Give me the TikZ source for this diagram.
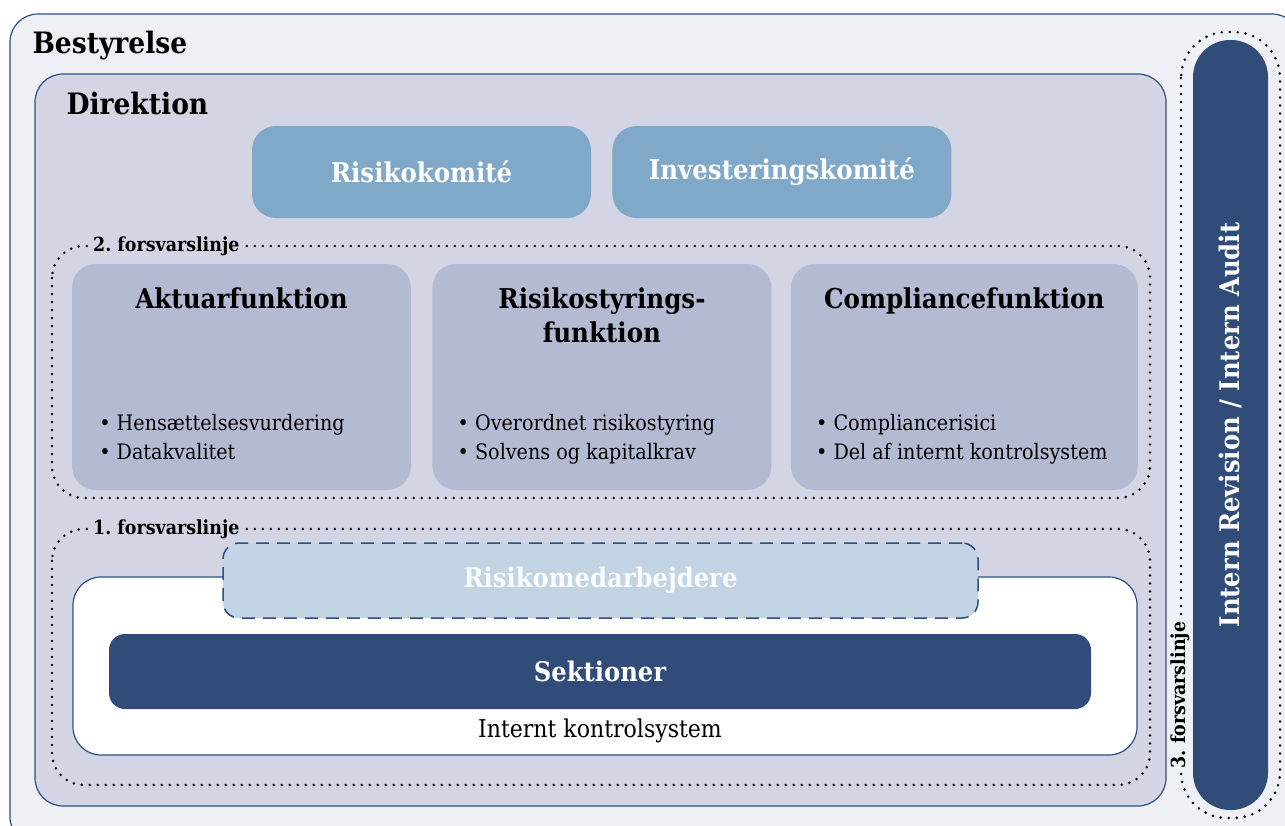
\documentclass[tikz,border=0pt]{standalone}
\usepackage{fontspec}
\setmainfont{DejaVu Serif Condensed}
\usepackage{xcolor}
\usepackage{tikz}
\usetikzlibrary{positioning}

\definecolor{edgeblue}{HTML}{2B5080}
\definecolor{boardbg}{HTML}{EFF0F6}
\definecolor{mgmtbg}{HTML}{D3D5E5}
\definecolor{kombg}{HTML}{7FA8C9}
\definecolor{funcbg}{HTML}{B5BAD3}
\definecolor{medbg}{HTML}{C2D3E4}
\definecolor{darkbg}{HTML}{314C79}

\begin{document}
\frenchspacing
\begin{tikzpicture}[x=1pt,y=-1pt,node distance=21pt,
                     frame/.style={draw=edgeblue,
                         line width=1.2pt,
                         rounded corners=28pt},
                     line/.style={line width=2.8pt,
                         dash pattern=on 0pt off 8pt,
                         line cap=round,
                         rounded corners=32pt},
                     title/.style={anchor=west,
                         font=\bfseries\fontsize{29.5}{33}\selectfont},
                     linelabel/.style={inner sep=3pt,
                         font=\bfseries\fontsize{19.4}{22}\selectfont},
                     komite/.style={rounded corners=24pt,
                         fill=kombg,
                         text=white,
                         minimum width=339pt,
                         minimum height=92pt,
                         font=\bfseries\fontsize{27.2}{31}\selectfont},
                     fn/.style={rounded corners=24pt,
                         fill=funcbg,
                         minimum width=339pt,
                         minimum height=226pt},
                     head/.style={anchor=north,
                         align=center,
                         font=\bfseries\fontsize{27.3}{34}\selectfont},
                     items/.style={anchor=south west,
                         align=left,
                         font=\fontsize{21.3}{29}\selectfont},
                     bar/.style={rounded corners=16pt,
                         minimum height=75pt,
                         font=\bfseries\fontsize{27}{31}\selectfont}]
    \useasboundingbox (0,0) rectangle (1285,825);
    % outer frames
    \draw[frame, fill=boardbg] (10,14) rectangle (1300,845);
    \node[title] (best) at (29,46) {Bestyrelse};
    \draw[frame, fill=mgmtbg] (35,74) rectangle (1166,806);
    \node[title] (dir) at (63,103) {Direktion};

    % committees
    \node[komite] (rk) at (421.5,172) {Risikokomité};
    \node[komite, right=of rk] (ik) {Investeringskomité};

    % 2nd line of defence
    \draw[line] (52,246) rectangle (1150,498);
    \node[linelabel, fill=mgmtbg, anchor=west] (l2) at (90,246) {2. forsvarslinje};
    \node[fn] (akt) at (241.5,377) {};
    \node[fn, right=of akt] (rsf) {};
    \node[fn, right=19pt of rsf, minimum width=347pt] (cf) {};
    \node[head, below=20pt of akt.north] (akth) {Aktuarfunktion};
    \node[head, below=20pt of rsf.north] (rsfh) {Risikostyrings-\\funktion};
    \node[head, below=20pt of cf.north] (cfh) {Compliancefunktion};
    \node[items, above right=18pt and 24pt of akt.south west] (akti)
        {• Hensættelsesvurdering\strut\\• Datakvalitet\strut};
    \node[items, above right=18pt and 22pt of rsf.south west] (rsfi)
        {• Overordnet risikostyring\strut\\• Solvens og kapitalkrav\strut};
    \node[items, above right=18pt and 22pt of cf.south west] (cfi)
        {• Compliancerisici\strut\\• Del af internt kontrolsystem\strut};

    % 1st line of defence
    \draw[line] (52,529) rectangle (1150,785);
    \node[linelabel, fill=mgmtbg, anchor=west] (l1) at (90,529) {1. forsvarslinje};
    \node[frame, fill=white, minimum width=1064pt, minimum height=178pt] (iks) at (605,666) {};
    \node[bar, fill=medbg, text=white!92!medbg, draw=edgeblue, line width=1.5pt,
          dash pattern=on 13pt off 8pt, minimum width=755pt] (med) at (600.5,580.5) {Risikomedarbejdere};
    \node[bar, fill=darkbg, text=white, minimum width=982pt] (sek) at (600,671.5) {Sektioner};
    \node[font=\fontsize{24.5}{28}\selectfont, below=6pt of sek] (iksl) {Internt kontrolsystem};

    % 3rd line of defence
    \draw[line, rounded corners=46pt] (1181,32) rectangle (1280,818);
    \node[rounded corners=37pt, fill=darkbg, text=white, rotate=90,
          minimum width=770pt, minimum height=75pt,
          font=\bfseries\fontsize{27}{31}\selectfont] (rev) at (1230.5,425) {Intern Revision / Intern Audit};
    \node[linelabel, fill=boardbg, rotate=90, inner sep=1.5pt] (l3) at (1180,695) {3. forsvarslinje};
\end{tikzpicture}
\end{document}
